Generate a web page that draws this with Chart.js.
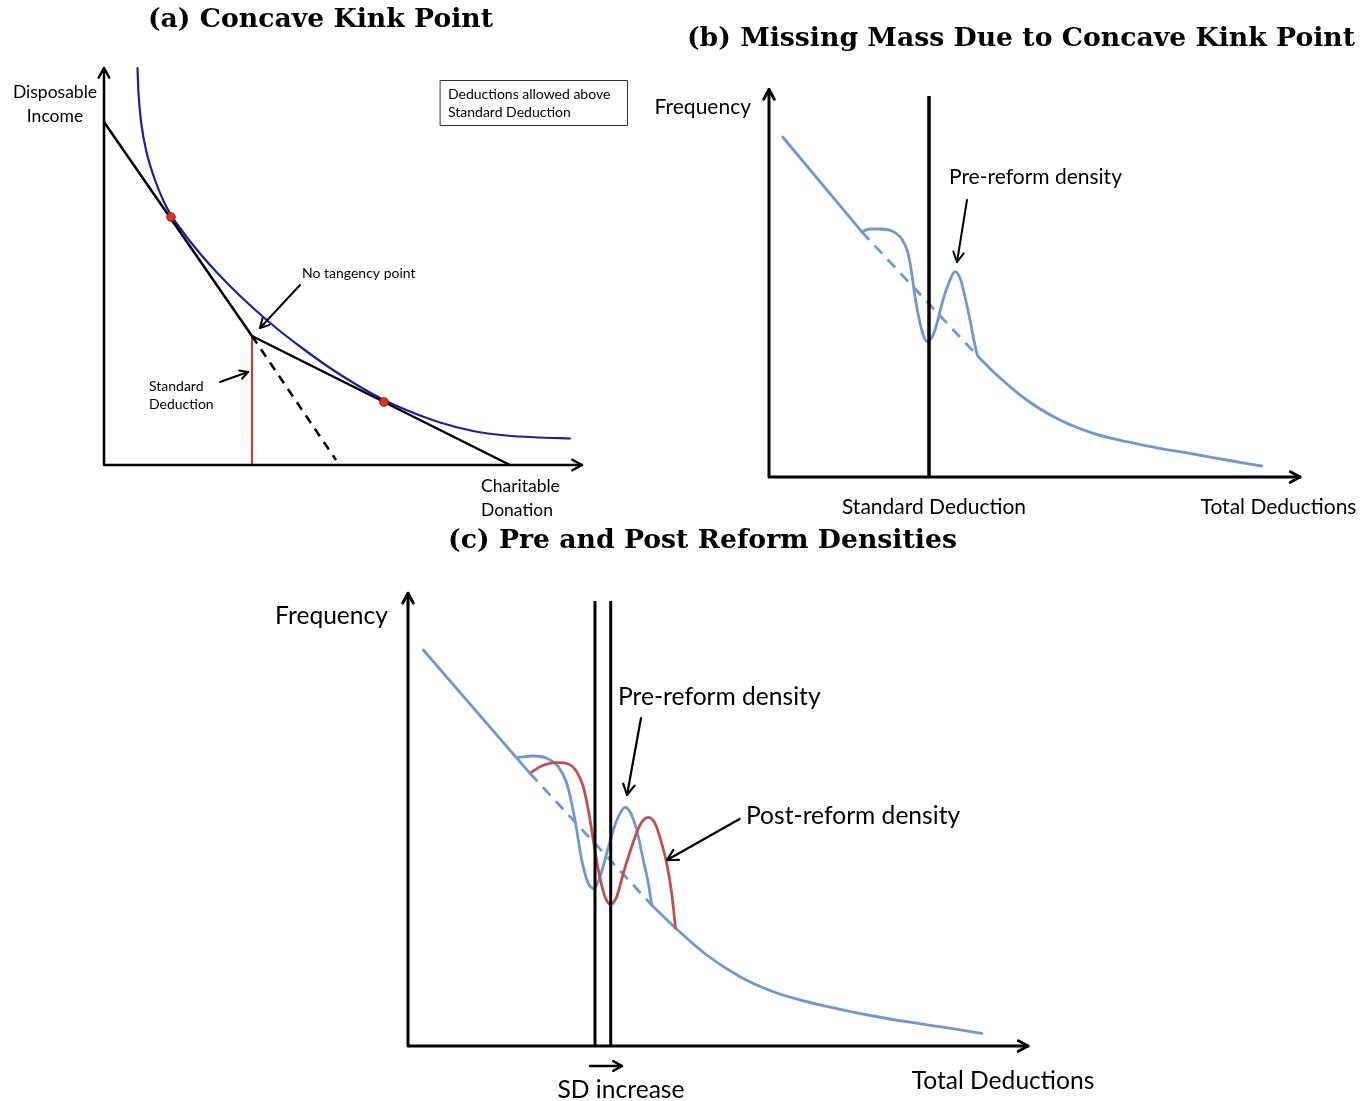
<!DOCTYPE html>
<html>
<head>
<meta charset="utf-8">
<title>Concave kink point diagrams</title>
<script src="https://cdn.jsdelivr.net/npm/chart.js@4.4.1/dist/chart.umd.min.js"></script>
<style>
  html, body { margin: 0; padding: 0; background: #fff; }
  #page { position: relative; width: 1363px; height: 1101px; overflow: hidden; }
  canvas { position: absolute; }
</style>
</head>
<body>
<div id="page">
  <canvas id="panelA" width="640" height="525" style="left:0px;top:0px"></canvas>
  <canvas id="panelB" width="723" height="525" style="left:640px;top:0px"></canvas>
  <canvas id="panelC" width="850" height="576" style="left:260px;top:525px"></canvas>
</div>
<script>
// ---- panel (a): budget set with the standard deduction kink ----
var budgetX = [0, 148, 406];
var budgetY = [343, 129, 0];
var noDeductionX = [148, 232];
var noDeductionY = [129, 5];
var sdLineX = [148, 148];
var sdLineY = [0, 129];
var indiffX = [33.5, 34.5, 37.5, 42.5, 51, 60, 67, 76, 89, 106, 126, 148, 171, 196, 226, 253, 280, 306, 336, 369, 402, 436, 466];
var indiffY = [397, 372, 340, 313, 285, 263, 250, 237, 220, 200, 179, 158, 138, 118.5, 97, 80, 65, 53.5, 42.5, 34, 29.5, 27.5, 26.5];
var choiceX = [67, 280];
var choiceY = [248, 63];

// ---- panel (b): density around the standard deduction ----
var sdB = 160;
var rampBX = [13.7, 92.7];
var rampBY = [340, 245.3];
var bumpBX = [92.7, 101, 111, 123, 131, 136, 139, 142.7, 146, 151, 155, 158.3, 162, 166, 174, 181, 186, 191, 196, 201, 207.7, 209.3];
var bumpBY = [245.3, 248, 248, 246, 240.3, 232, 224, 204, 180.3, 154, 140, 135.3, 138, 147, 177, 197, 205.3, 199, 180.3, 157, 124, 120.3];
var smoothBX = [92.7, 209.3];
var smoothBY = [245.3, 120.3];
var tailBX = [209.3, 224.3, 257.7, 291, 324.3, 357.7, 391, 424.3, 457.7, 492.7];
var tailBY = [120.3, 105.3, 77, 57, 43.7, 35.3, 28.7, 23, 17, 11];

// ---- panel (c): pre and post reform densities ----
var sdPre = 187;
var sdPost = 202.7;
var rampCX = [15.3, 122];
var rampCY = [396, 272.7];
var preX = [110.3, 125.3, 138.7, 150.3, 158.7, 163.7, 168.7, 173.7, 180.3, 186, 192, 198.7, 205.3, 212, 217, 222, 228.7, 235.3, 240.3, 243.7];
var preY = [288.7, 290, 287.7, 279.3, 262.7, 242.7, 216, 186, 162.7, 157.7, 169.3, 192.7, 216, 232.7, 238.7, 234.3, 216, 186, 162.7, 141];
var postX = [122, 132, 148.7, 160.3, 168.7, 175.3, 180.3, 185.3, 190.3, 197, 202.7, 208.7, 215.3, 223.7, 232, 240.3, 247, 253.7, 258.7, 263.7, 267.5];
var postY = [272.7, 279.3, 283.3, 282, 274.3, 259.3, 236, 206, 176, 149.3, 141.7, 149.3, 172.7, 199.3, 221, 228.7, 222.7, 202.7, 182.7, 152.7, 118];
var smoothCX = [122, 243.7];
var smoothCY = [272.7, 141];
var tailCX = [243.7, 267.5, 298.7, 332, 365.3, 398.7, 432, 465.3, 498.7, 532, 573.7];
var tailCY = [141, 118, 91, 69.3, 54.3, 44.3, 36.7, 30, 24.3, 19.3, 12.7];

var BLUE = '#7397cd';
var RED = '#c0504d';
var LABEL = 'Lato, "Open Sans", sans-serif';
var TITLE = 'bold 26.7px "DejaVu Serif", serif';

function pts(xs, ys) {
    return xs.map(function (x, i) { return { x: x, y: ys[i] }; });
}

function line(xs, ys, color, width, extra) {
    return Object.assign({
        data: pts(xs, ys),
        showLine: true,
        borderColor: color,
        borderWidth: width,
        pointRadius: 0,
        tension: 0,
        clip: false,
        borderCapStyle: 'round',
        borderJoinStyle: 'round'
    }, extra || {});
}

// smooth curve through the read points
function curve(xs, ys, color, width) {
    return line(xs, ys, color, width, { cubicInterpolationMode: 'monotone' });
}

function vline(x, top, color, width) {
    return line([x, x], [0, top], color, width, { borderCapStyle: 'butt' });
}

// open chevron at (x2, y2) pointing away from (x1, y1)
function head(ctx, x1, y1, x2, y2, len) {
    var a = Math.atan2(y2 - y1, x2 - x1);
    var s = 0.5;
    ctx.beginPath();
    ctx.moveTo(x2 - len * Math.cos(a - s), y2 - len * Math.sin(a - s));
    ctx.lineTo(x2, y2);
    ctx.lineTo(x2 - len * Math.cos(a + s), y2 - len * Math.sin(a + s));
    ctx.stroke();
}

// axes, pointer arrows, labels and titles for each diagram
var diagram = {
    id: 'diagram',
    afterDatasetsDraw: function (chart, args, opts) {
        var ctx = chart.ctx;
        var X = function (v) { return chart.scales.x.getPixelForValue(v); };
        var Y = function (v) { return chart.scales.y.getPixelForValue(v); };
        ctx.save();
        ctx.strokeStyle = '#000';
        ctx.fillStyle = '#000';
        ctx.lineCap = 'round';
        ctx.lineJoin = 'round';

        ctx.lineWidth = opts.axisWidth;
        ctx.beginPath();
        ctx.moveTo(X(0), Y(opts.yTop));
        ctx.lineTo(X(0), Y(0));
        ctx.lineTo(X(opts.xEnd), Y(0));
        ctx.stroke();
        head(ctx, X(0), Y(0), X(0), Y(opts.yTop), 11);
        head(ctx, X(0), Y(0), X(opts.xEnd), Y(0), 11);

        (opts.pointers || []).forEach(function (p) {
            ctx.lineWidth = p.width;
            ctx.beginPath();
            ctx.moveTo(X(p.from[0]), Y(p.from[1]));
            ctx.lineTo(X(p.to[0]), Y(p.to[1]));
            ctx.stroke();
            head(ctx, X(p.from[0]), Y(p.from[1]), X(p.to[0]), Y(p.to[1]), p.head);
        });

        if (opts.box) {
            var b = opts.box;
            ctx.lineWidth = 1;
            ctx.strokeStyle = '#333';
            ctx.strokeRect(X(b.x0) + 0.5, Y(b.y1) + 0.5, X(b.x1) - X(b.x0), Y(b.y0) - Y(b.y1));
        }

        ctx.textBaseline = 'middle';
        (opts.labels || []).forEach(function (l) {
            ctx.font = l.font;
            ctx.textAlign = l.align || 'left';
            ctx.fillText(l.text, X(l.x), Y(l.y));
        });

        ctx.font = TITLE;
        ctx.textAlign = 'center';
        ctx.fillText(opts.title.text, opts.title.cx, opts.title.cy);
        ctx.restore();
    }
};

function makeChart(id, datasets, xMax, yMax, padding, deco) {
    return new Chart(document.getElementById(id), {
        type: 'scatter',
        data: { datasets: datasets },
        options: {
            responsive: false,
            animation: false,
            events: [],
            layout: { padding: padding },
            scales: {
                x: { type: 'linear', min: 0, max: xMax, display: false },
                y: { type: 'linear', min: 0, max: yMax, display: false }
            },
            plugins: {
                legend: { display: false },
                tooltip: { enabled: false },
                diagram: deco
            }
        },
        plugins: [diagram]
    });
}

var smallA = '14px ' + LABEL;
var bigA = '17.5px ' + LABEL;
makeChart('panelA', [
    {
        data: pts(choiceX, choiceY), showLine: false, pointRadius: 4.3,
        backgroundColor: '#e0321c', borderColor: '#9c1e10', borderWidth: 1, clip: false
    },
    line(budgetX, budgetY, '#000', 2.5),
    line(noDeductionX, noDeductionY, '#000', 2.5, { borderDash: [9, 7], borderCapStyle: 'butt' }),
    line(sdLineX, sdLineY, '#e0301e', 2, { borderCapStyle: 'butt' }),
    curve(indiffX, indiffY, '#1e1ea0', 2.2)
], 480, 400, { left: 104, right: 56, top: 65, bottom: 60 }, {
    axisWidth: 2.5, xEnd: 478, yTop: 397,
    title: { text: '(a) Concave Kink Point', cx: 320.5, cy: 20 },
    box: { x0: 336, x1: 523, y0: 340, y1: 385 },
    pointers: [
        { from: [196, 180], to: [156, 137], width: 2, head: 10 },
        { from: [116, 83], to: [144, 93], width: 2, head: 9 }
    ],
    labels: [
        { text: 'Disposable', x: -49, y: 373, align: 'center', font: bigA },
        { text: 'Income', x: -49, y: 349, align: 'center', font: bigA },
        { text: 'Charitable', x: 377, y: -21, font: bigA },
        { text: 'Donation', x: 377, y: -45, font: bigA },
        { text: 'Deductions allowed above', x: 344, y: 371, font: smallA },
        { text: 'Standard Deduction', x: 344, y: 353, font: smallA },
        { text: 'No tangency point', x: 198, y: 192, font: smallA },
        { text: 'Standard', x: 45, y: 79, font: smallA },
        { text: 'Deduction', x: 45, y: 61, font: smallA }
    ]
});

var labB = '21px ' + LABEL;
makeChart('panelB', [
    vline(sdB, 381, '#000', 3.5),
    line(rampBX, rampBY, BLUE, 2.8),
    curve(bumpBX, bumpBY, BLUE, 2.8),
    line(smoothBX, smoothBY, BLUE, 2.8, { borderDash: [11, 8], borderCapStyle: 'butt' }),
    curve(tailBX, tailBY, BLUE, 2.8)
], 540, 400, { left: 129, right: 54, top: 77, bottom: 48 }, {
    axisWidth: 3, xEnd: 531, yTop: 387.5,
    title: { text: '(b) Missing Mass Due to Concave Kink Point', cx: 381, cy: 39 },
    pointers: [
        { from: [198, 277], to: [188, 215], width: 2, head: 11 }
    ],
    labels: [
        { text: 'Frequency', x: -18, y: 370, align: 'right', font: labB },
        { text: 'Pre-reform density', x: 180, y: 300, font: labB },
        { text: 'Standard Deduction', x: 165, y: -30, align: 'center', font: labB },
        { text: 'Total Deductions', x: 509.5, y: -30, align: 'center', font: labB }
    ]
});

var labC = '24.6px ' + LABEL;
makeChart('panelC', [
    vline(sdPre, 445, '#000', 3),
    vline(sdPost, 445, '#000', 3),
    line(rampCX, rampCY, BLUE, 2.8),
    curve(postX, postY, RED, 2.8),
    curve(preX, preY, BLUE, 2.8),
    line(smoothCX, smoothCY, BLUE, 2.8, { borderDash: [11, 8], borderCapStyle: 'butt' }),
    curve(tailCX, tailCY, BLUE, 2.8)
], 630, 460, { left: 148, right: 72, top: 61, bottom: 55 }, {
    axisWidth: 3, xEnd: 620, yTop: 452.7,
    title: { text: '(c) Pre and Post Reform Densities', cx: 442.5, cy: 16 },
    pointers: [
        { from: [233, 328], to: [219, 251], width: 2.2, head: 12 },
        { from: [331.6, 227], to: [259, 186], width: 2.2, head: 12 },
        { from: [182, -20], to: [214, -20], width: 2.5, head: 10 }
    ],
    labels: [
        { text: 'Frequency', x: -20, y: 430, align: 'right', font: labC },
        { text: 'Pre-reform density', x: 210, y: 349, font: labC },
        { text: 'Post-reform density', x: 338, y: 230, font: labC },
        { text: 'SD increase', x: 213, y: -44, align: 'center', font: labC },
        { text: 'Total Deductions', x: 595, y: -35, align: 'center', font: labC }
    ]
});
</script>
</body>
</html>
